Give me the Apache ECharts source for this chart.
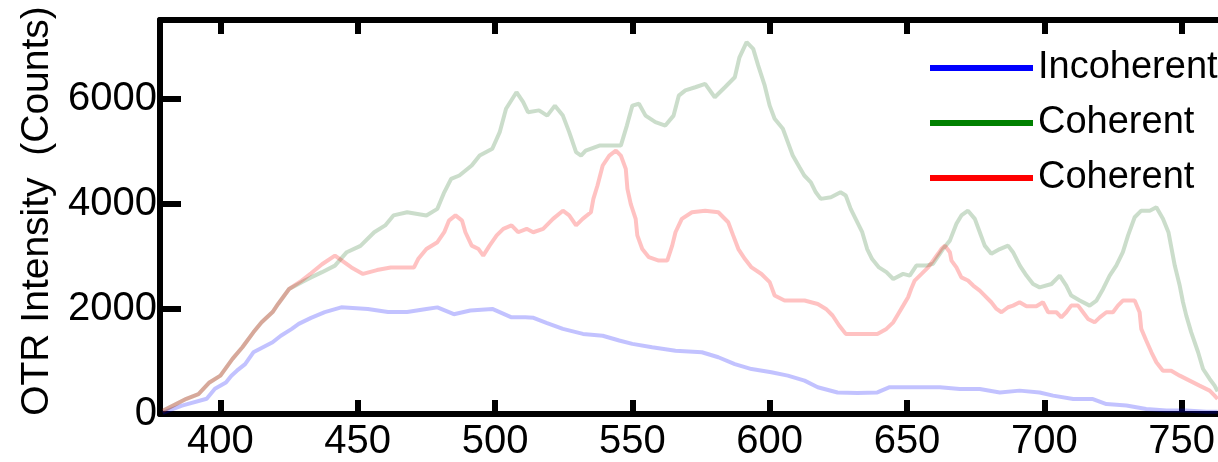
<!DOCTYPE html>
<html><head><meta charset="utf-8">
<script src="https://cdn.jsdelivr.net/npm/echarts@6/dist/echarts.min.js"></script>
<style>html,body{margin:0;padding:0;background:#fff}#c{width:1218px;height:462px}</style>
</head><body><div id="c"></div><script>
const wavelengthTicks = [400, 450, 500, 550, 600, 650, 700, 750];
const intensityTicks = [0, 2000, 4000, 6000];
const seriesNames = ['Incoherent', 'Coherent', 'Coherent'];

const incoherentX = [379, 386, 395, 398, 402, 404, 406, 409, 412, 415.5, 419, 422, 426, 428.5, 433, 438, 444, 453.7, 461, 468, 475, 479, 485, 491, 499, 506, 511, 514, 518.7, 524.7, 532, 539.2, 545.2, 550, 557.2, 565.7, 575.3, 581.3, 587.3, 593.4, 600.6, 606.6, 612.7, 617.5, 624.7, 631.9, 639.2, 643.7, 652.2, 662, 669.2, 676.5, 683.8, 691, 698.3, 703.2, 710.5, 717.7, 722.6, 729.9, 737.1, 744.4, 751.7, 759, 763.1];
const incoherentY = [20, 160, 290, 480, 600, 730, 825, 950, 1175, 1270, 1365, 1490, 1620, 1715, 1830, 1940, 2030, 2000, 1940, 1940, 2000, 2030, 1900, 1970, 2000, 1840, 1840, 1830, 1735, 1620, 1525, 1490, 1400, 1335, 1270, 1205, 1175, 1080, 950, 855, 795, 730, 635, 510, 410, 400, 410, 510, 510, 510, 475, 475, 410, 445, 410, 350, 285, 285, 190, 160, 95, 65, 65, 45, 45];

const coherentGreenX = [379, 387.6, 392, 396, 400, 404.4, 408, 412, 415, 419, 421, 425, 429.6, 433, 437, 441.7, 446, 451, 456, 460, 463, 468, 475, 479, 481.5, 484, 487, 491.5, 494.4, 499, 501.7, 504, 507.8, 510.2, 512, 516, 519, 521.8, 524.7, 527, 529.5, 531.3, 533, 538, 542.8, 545.8, 548, 550, 552.4, 554.8, 558.4, 562, 565, 566.9, 569.3, 572.9, 576.5, 580, 583.7, 587.3, 589, 591.6, 594, 595.8, 598.2, 600, 601.8, 604.8, 606.6, 608.4, 610.8, 612.6, 615, 616.8, 618.6, 622.3, 625.8, 627.7, 629.5, 631.3, 633.7, 635.5, 637.3, 639.8, 642.5, 645, 648.6, 651, 653.4, 657.1, 659.5, 663.1, 665.6, 668, 669.8, 672.2, 674.7, 676.5, 678.3, 680.7, 683.8, 686.8, 688.6, 691.1, 693.5, 695.9, 698.3, 702.6, 705.6, 708, 709.8, 712.9, 716.5, 719, 721.4, 723.8, 726.2, 728.6, 730.5, 732.9, 735.3, 738.4, 740.8, 743.2, 745.2, 747.5, 749.3, 750.5, 751.7, 753.5, 756, 757.8, 760.2, 762, 763.1];
const coherentGreenY = [60, 290, 380, 600, 730, 1050, 1270, 1555, 1745, 1940, 2095, 2380, 2510, 2600, 2700, 2825, 3080, 3200, 3460, 3590, 3780, 3840, 3780, 3905, 4220, 4475, 4540, 4730, 4920, 5050, 5365, 5810, 6125, 5940, 5745, 5780, 5680, 5870, 5680, 5365, 4985, 4920, 5015, 5110, 5110, 5110, 5490, 5870, 5905, 5680, 5555, 5490, 5680, 6060, 6160, 6220, 6285, 6030, 6220, 6410, 6790, 7080, 6950, 6635, 6250, 5870, 5620, 5430, 5175, 4920, 4700, 4540, 4410, 4220, 4095, 4125, 4220, 4160, 3905, 3715, 3460, 3140, 2950, 2790, 2700, 2570, 2667, 2635, 2825, 2825, 2860, 3140, 3300, 3620, 3780, 3870, 3715, 3460, 3205, 3050, 3140, 3205, 3080, 2825, 2635, 2475, 2410, 2475, 2635, 2445, 2255, 2160, 2063, 2160, 2380, 2635, 2825, 3080, 3400, 3745, 3870, 3870, 3935, 3715, 3460, 2825, 2445, 2127, 1873, 1555, 1175, 857, 667, 540, 430];

const coherentRedX = [379, 387.6, 392, 396, 400, 404.4, 408, 412, 415, 419, 421, 425, 429.6, 433, 437, 441.7, 447.7, 451.9, 457, 462, 470.5, 472, 475, 479, 481.5, 483.2, 485.6, 488, 489.2, 491.5, 494, 495.7, 498, 500.6, 503, 506, 508.4, 511.5, 513.9, 517.5, 521.1, 524.7, 527, 529.5, 531.9, 534.9, 535.8, 537.3, 539.2, 541.6, 544, 545.8, 547.6, 548.2, 549.4, 551.2, 551.8, 553.6, 556, 559.6, 562.7, 564.5, 565.7, 568, 571.7, 576.5, 581.3, 584.9, 586.7, 588.6, 591, 593.4, 597, 600, 601.8, 605.4, 612.7, 617.5, 620.5, 622.9, 625.3, 627.7, 634.3, 639.2, 642.5, 645, 646.8, 648.6, 650.4, 651.5, 652.8, 655.3, 657.7, 659.5, 661.3, 662.5, 663.8, 665.6, 666.2, 668, 669.8, 672.2, 674.1, 676.5, 678.3, 680.7, 682.6, 684.4, 686.8, 688.6, 691, 693.5, 697.1, 699.5, 701.4, 704.4, 706.2, 708, 709.8, 712.3, 714.1, 715.9, 718.3, 720.2, 722.6, 725, 726.8, 728.6, 731.1, 732.9, 734.7, 735.3, 737.1, 739, 740.8, 743.2, 746.2, 749.3, 752.9, 756.5, 760.2, 762, 763.1];
const coherentRedY = [60, 290, 380, 600, 730, 1050, 1270, 1555, 1745, 1940, 2095, 2380, 2540, 2680, 2850, 3015, 2790, 2667, 2740, 2790, 2790, 2950, 3140, 3270, 3460, 3680, 3780, 3680, 3460, 3205, 3140, 3015, 3205, 3400, 3525, 3590, 3460, 3525, 3460, 3525, 3715, 3870, 3780, 3590, 3715, 3840, 4095, 4350, 4730, 4920, 5015, 4920, 4665, 4285, 4000, 3715, 3400, 3140, 2985, 2920, 2920, 3205, 3460, 3715, 3840, 3870, 3840, 3650, 3400, 3140, 2950, 2790, 2665, 2510, 2255, 2160, 2160, 2095, 2000, 1875, 1685, 1525, 1525, 1525, 1620, 1745, 1905, 2063, 2222, 2380, 2540, 2667, 2790, 2920, 3050, 3140, 3205, 3080, 2920, 2790, 2600, 2540, 2445, 2350, 2255, 2127, 2000, 1937, 2032, 2063, 2127, 2050, 2050, 2127, 1937, 1937, 1840, 1937, 2063, 2063, 1937, 1810, 1745, 1840, 1937, 1937, 2063, 2160, 2160, 2160, 1937, 1620, 1400, 1175, 985, 825, 825, 730, 635, 540, 445, 350, 285];

const zip = (xs, ys) => xs.map((x, i) => [x, ys[i]]);
const FONT = '"Liberation Sans", Arial, sans-serif';
const AX_MIN = 378, AX_MAX = 763;
const plain = v => String(v);

const chart = echarts.init(document.getElementById('c'), null, {renderer: 'canvas'});
const lineAxis = {lineStyle: {color: '#000', width: 6}};
chart.setOption({
  animation: false,
  backgroundColor: '#fff',
  grid: {left: 160, right: 0, top: 20, bottom: 45},
  xAxis: [
    {type: 'value', position: 'bottom', min: AX_MIN, max: AX_MAX,
     axisLine: Object.assign({show: true, onZero: false}, lineAxis),
     axisTick: {show: true, inside: true, length: 14, customValues: wavelengthTicks, lineStyle: {color: '#000', width: 6}},
     axisLabel: {customValues: wavelengthTicks, formatter: plain, fontSize: 40, color: '#000', fontFamily: FONT, margin: 8},
     splitLine: {show: false}},
    {type: 'value', position: 'top', min: AX_MIN, max: AX_MAX,
     axisLine: Object.assign({show: true, onZero: false}, lineAxis),
     axisTick: {show: true, inside: true, length: 14, customValues: wavelengthTicks, lineStyle: {color: '#000', width: 6}},
     axisLabel: {show: false},
     splitLine: {show: false}}
  ],
  yAxis: [{
    type: 'value', min: 0, max: 7500,
    axisLine: Object.assign({show: true, onZero: false}, lineAxis),
    axisTick: {show: true, inside: true, length: 21, customValues: intensityTicks, lineStyle: {color: '#000', width: 6}},
    axisLabel: {customValues: intensityTicks, formatter: plain, fontSize: 40, color: '#000', fontFamily: FONT, margin: 3},
    splitLine: {show: false},
    name: 'OTR Intensity  (Counts)', nameLocation: 'middle', nameGap: 102,
    nameTextStyle: {fontSize: 39, color: '#000', fontFamily: FONT, padding: [0, 0, 0, 12]}
  }],
  legend: {
    orient: 'vertical', left: 925, top: 44, itemWidth: 103, itemHeight: 6, itemGap: 17,
    icon: 'rect', selectedMode: false,
    textStyle: {fontSize: 38, color: '#000', fontFamily: FONT},
    formatter: n => n.replace(' (red)', ''),
    data: [
      {name: seriesNames[0], itemStyle: {color: '#0000ff', opacity: 1, borderWidth: 0}},
      {name: seriesNames[1], itemStyle: {color: '#008000', opacity: 1, borderWidth: 0}},
      {name: seriesNames[2] + ' (red)', itemStyle: {color: '#ff0000', opacity: 1, borderWidth: 0}}
    ]
  },
  series: [
    {name: seriesNames[0], type: 'line', showSymbol: false, symbol: 'none', color: '#0000ff',
     lineStyle: {color: 'rgba(0,0,255,0.24)', width: 4}, data: zip(incoherentX, incoherentY)},
    {name: seriesNames[1], type: 'line', showSymbol: false, symbol: 'none', color: '#008000',
     lineStyle: {color: 'rgba(20,100,20,0.22)', width: 4}, data: zip(coherentGreenX, coherentGreenY)},
    {name: seriesNames[2] + ' (red)', type: 'line', showSymbol: false, symbol: 'none', color: '#ff0000',
     lineStyle: {color: 'rgba(255,0,0,0.24)', width: 4}, data: zip(coherentRedX, coherentRedY)}
  ]
});
</script></body></html>
